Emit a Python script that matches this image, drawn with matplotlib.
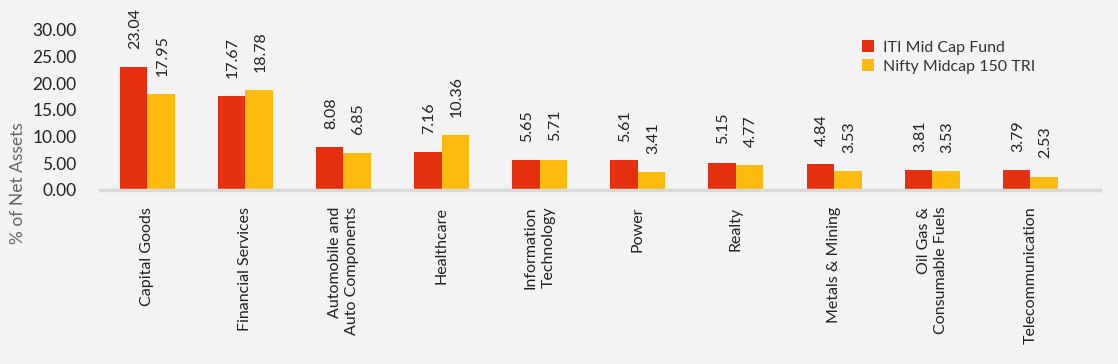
import matplotlib.pyplot as plt
import numpy as np

plt.rcParams['font.family'] = ['Lato', 'DejaVu Sans']

categories = ["Capital Goods", "Financial Services", "Automobile and\nAuto Components",
              "Healthcare", "Information\nTechnology", "Power", "Realty",
              "Metals & Mining", "Oil Gas &\nConsumable Fuels", "Telecommunication"]
fund = [23.04, 17.67, 8.08, 7.16, 5.65, 5.61, 5.15, 4.84, 3.81, 3.79]
index = [17.95, 18.78, 6.85, 10.36, 5.71, 3.41, 4.77, 3.53, 3.53, 2.53]
yticks = [0, 5, 10, 15, 20, 25, 30]

bg = '#F3F3F5'
red = '#E3300F'
yellow = '#FDBB0F'

fig = plt.figure(figsize=(11.18, 3.64), dpi=100, facecolor=bg)
ax = fig.add_axes([100/1118, 174/364, 1000/1118, 160/364], facecolor=bg)

x = np.arange(len(categories))
w = 0.28
b1 = ax.bar(x - w/2, fund, w, color=red, label='ITI Mid Cap Fund')
b2 = ax.bar(x + w/2, index, w, color=yellow, label='Nifty Midcap 150 TRI')

for bars, vals in [(b1, fund), (b2, index)]:
    for b, v in zip(bars, vals):
        ax.annotate(f'{v:.2f}', (b.get_x() + b.get_width()/2, v),
                    xytext=(1, 13), textcoords='offset points',
                    rotation=90, ha='center', va='bottom', fontsize=11.5,
                    color='#222222', annotation_clip=False)

ax.set_xlim(-0.48, 9.71)
ax.set_ylim(0, 30)
ax.set_yticks(yticks)
ax.set_yticklabels([f'{t:.2f}' for t in yticks], fontsize=12.5, color='#222222')
ax.set_xticks(x)
ax.set_xticklabels(categories, rotation=90, ha='center', va='top',
                   multialignment='right', fontsize=11.5, color='#222222',
                   linespacing=1.3)
ax.tick_params(axis='both', length=0)
ax.tick_params(axis='y', pad=17)
ax.tick_params(axis='x', pad=12)
for s in ['top', 'right', 'left']:
    ax.spines[s].set_visible(False)
ax.spines['bottom'].set_color('#D9D9D9')
ax.spines['bottom'].set_linewidth(2.5)

fig.text(18/1118, 1 - 183/364, '% of Net Assets', rotation=90, ha='center', va='center',
         fontsize=12.5, color='#666666')

fig.legend(handles=[b1, b2], loc='upper left', bbox_to_anchor=(848/1118, 1 - 26/364),
           frameon=False, fontsize=11.5, handlelength=0.7, handleheight=0.7,
           handletextpad=0.6, labelspacing=0.3, labelcolor='#333333')

fig.savefig('out.png', dpi=100, facecolor=bg)
